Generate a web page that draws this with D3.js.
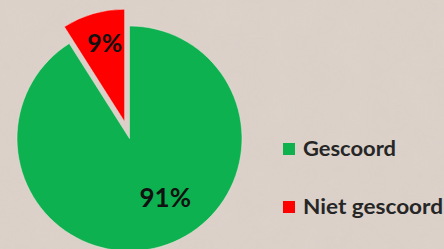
<!DOCTYPE html>
<html>
<head>
<meta charset="utf-8">
<script src="https://cdn.jsdelivr.net/npm/d3@7"></script>
<style>
  html, body { margin: 0; padding: 0; background: #d9cfc7; overflow: hidden; }
</style>
</head>
<body>
<div id="chart"></div>
<script>
const categories = ["Gescoord", "Niet gescoord"];
const values = [91, 9];
const labels = ["91%", "9%"];
const colors = ["#0fb14f", "#ff0000"];

const width = 444;
const height = 249;
const cx = 129.5;
const cy = 138.5;
const radius = 112.5;
const explode = [0, 17.5];

const svg = d3.select("#chart").append("svg")
  .attr("width", width)
  .attr("height", height);

// paper-like background
const defs = svg.append("defs");
const noise = defs.append("filter").attr("id", "paper")
  .attr("x", 0).attr("y", 0).attr("width", "100%").attr("height", "100%");
noise.append("feTurbulence")
  .attr("type", "fractalNoise")
  .attr("baseFrequency", 0.03)
  .attr("numOctaves", 3)
  .attr("seed", 4);
noise.append("feColorMatrix")
  .attr("type", "matrix")
  .attr("values", "0 0 0 0 0.6  0 0 0 0 0.52  0 0 0 0 0.48  0 0 0 0.2 0");

svg.append("rect").attr("width", width).attr("height", height).attr("fill", "#dcd2ca");
svg.append("rect").attr("width", width).attr("height", height)
  .attr("filter", "url(#paper)").attr("opacity", 0.55);

const soft = defs.append("filter").attr("id", "soft");
soft.append("feGaussianBlur").attr("stdDeviation", 0.6);

const data = categories.map((c, i) => ({ name: c, value: values[i], label: labels[i], color: colors[i], explode: explode[i] }));

const pie = d3.pie().value(d => d.value).sort(null);
const arcs = pie(data);
const arc = d3.arc().innerRadius(0).outerRadius(radius);

const g = svg.append("g").attr("transform", `translate(${cx},${cy})`);

const slices = g.selectAll("g.slice").data(arcs).enter().append("g")
  .attr("class", "slice")
  .attr("transform", d => {
    const a = (d.startAngle + d.endAngle) / 2;
    const o = d.data.explode;
    return `translate(${o * Math.sin(a)},${-o * Math.cos(a)})`;
  });

slices.append("path")
  .attr("d", arc)
  .attr("fill", d => d.data.color)
  .attr("stroke", "#f3e6e0")
  .attr("stroke-opacity", 0.5)
  .attr("stroke-width", 1)
  .attr("filter", "url(#soft)");

// label positions (angle offset in degrees, distance from slice centre)
const labelPos = [{ da: -15, r: 69 }, { da: 2, r: 81 }];

slices.append("text")
  .attr("x", (d, i) => {
    const a = (d.startAngle + d.endAngle) / 2 + labelPos[i].da * Math.PI / 180;
    return labelPos[i].r * Math.sin(a);
  })
  .attr("y", (d, i) => {
    const a = (d.startAngle + d.endAngle) / 2 + labelPos[i].da * Math.PI / 180;
    return -labelPos[i].r * Math.cos(a);
  })
  .attr("dy", "0.36em")
  .attr("text-anchor", "middle")
  .attr("font-family", "Lato, 'Noto Sans', sans-serif")
  .attr("font-weight", "bold")
  .attr("font-size", (d, i) => i === 0 ? 26 : 25)
  .attr("fill", "#111")
  .text(d => d.data.label);

// legend
const legend = svg.append("g").attr("transform", "translate(283,0)");
const rowY = [149, 207];
const textLen = [93, 140];
const items = legend.selectAll("g").data(data).enter().append("g")
  .attr("transform", (d, i) => `translate(0,${rowY[i]})`);

items.append("rect")
  .attr("x", 0).attr("y", -6)
  .attr("width", 12).attr("height", 12)
  .attr("fill", d => d.color);

items.append("text")
  .attr("x", 20)
  .attr("y", 7)
  .attr("font-family", "Lato, 'Noto Sans', sans-serif")
  .attr("font-weight", "bold")
  .attr("font-size", 21)
  .attr("fill", "#262626")
  .attr("textLength", (d, i) => textLen[i])
  .attr("lengthAdjust", "spacingAndGlyphs")
  .text(d => d.name);
</script>
</body>
</html>
